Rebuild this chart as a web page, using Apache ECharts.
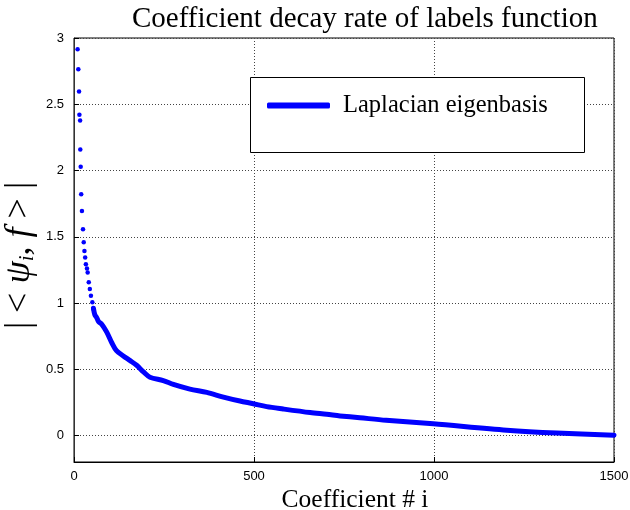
<!DOCTYPE html>
<html>
<head>
<meta charset="utf-8">
<script src="https://cdn.jsdelivr.net/npm/echarts@6/dist/echarts.min.js"></script>
<style>
  html, body { margin: 0; padding: 0; background: #fff; }
  #chart { width: 630px; height: 510px; }
</style>
</head>
<body>
<div id="chart"></div>
<script>
// sparse leading coefficients, drawn as dots
var dotIndex = [10, 12, 14, 15, 17, 17.5, 18.6, 20, 22, 25, 27, 29, 31, 33, 36, 38, 41, 44, 47, 51, 54];
var dotValue = [2.915, 2.765, 2.596, 2.42, 2.378, 2.158, 2.028, 1.82, 1.694, 1.556, 1.459, 1.393, 1.344, 1.293, 1.26, 1.231, 1.156, 1.105, 1.055, 1.005, 0.955];
// dense tail, drawn as thick line
var lineIndex = [54, 58, 63, 68, 77, 91, 105, 118, 137, 156, 174, 193, 211, 248, 276, 322, 369, 415, 461, 498, 535, 581, 656, 702, 739, 794, 867, 998, 1202, 1341, 1500];
var lineValue = [0.96, 0.91, 0.89, 0.86, 0.84, 0.78, 0.70, 0.64, 0.60, 0.565, 0.53, 0.48, 0.44, 0.415, 0.385, 0.35, 0.325, 0.29, 0.26, 0.24, 0.218, 0.2, 0.173, 0.16, 0.148, 0.134, 0.115, 0.088, 0.04, 0.018, 0.002];
var yTicks = [0, 0.5, 1, 1.5, 2, 2.5, 3];

var chart = echarts.init(document.getElementById('chart'));

var zip = function(xs, ys) {
    var out = [];
    for (var i = 0; i < xs.length; i++) {
        out.push([xs[i], ys[i]]);
    }
    return out;
};

var serif = 'Liberation Serif';
var gridLine = { show: true, lineStyle: { color: '#444', type: [1, 2], width: 1 } };

var option = {
    animation: false,
    backgroundColor: '#fff',
    title: {
        text: 'Coefficient decay rate of labels function',
        left: 127,
        top: 0,
        textStyle: { fontFamily: serif, fontSize: 29, fontWeight: 'normal', color: '#000' }
    },
    grid: {
        left: 74, right: 16, top: 38, bottom: 48,
        outerBoundsMode: 'none',
        show: true, borderColor: '#000', borderWidth: 1
    },
    graphic: [{
        type: 'rect',
        z: 10,
        shape: { x: 250.5, y: 77.5, width: 334, height: 75 },
        style: { fill: '#fff', stroke: '#000', lineWidth: 1 }
    }],
    legend: {
        data: ['Laplacian eigenbasis'],
        left: 262,
        top: 88,
        z: 20,
        icon: 'roundRect',
        itemWidth: 63,
        itemHeight: 6,
        textStyle: { fontFamily: serif, fontSize: 24.5, color: '#000', padding: [0, 0, 0, 8] }
    },
    xAxis: {
        type: 'value',
        min: 0, max: 1500, interval: 500,
        axisLine: { onZero: false, lineStyle: { color: '#000' } },
        axisTick: { inside: true, length: 5, lineStyle: { color: '#000' } },
        axisLabel: {
            fontFamily: 'Liberation Sans', fontSize: 13, color: '#000', margin: 8,
            formatter: function(value) {
                return String(value);
            }
        },
        splitLine: gridLine,
        name: 'Coefficient # i',
        nameLocation: 'middle',
        nameGap: 25,
        nameMoveOverlap: false,
        nameTextStyle: { fontFamily: serif, fontSize: 25.5, color: '#000', padding: [0, 0, 0, 22] }
    },
    yAxis: {
        type: 'value',
        min: -0.2, max: 3,
        axisLine: { show: true, lineStyle: { color: '#333' } },
        axisTick: { inside: true, length: 5, customValues: yTicks, lineStyle: { color: '#000' } },
        axisLabel: { customValues: yTicks, fontFamily: 'Liberation Sans', fontSize: 13, color: '#000', margin: 10 },
        splitLine: gridLine,
        name: '{a|| < }{b|ψ}{s|i}{a|, }{b|f}{a| > |}',
        nameLocation: 'middle',
        nameRotate: 90,
        nameGap: 36,
        nameMoveOverlap: false,
        nameTextStyle: {
            padding: [0, 11, 0, 0],
            rich: {
                a: { fontFamily: serif, fontSize: 36, color: '#000' },
                b: { fontFamily: serif, fontStyle: 'italic', fontSize: 36, color: '#000' },
                s: { fontFamily: serif, fontStyle: 'italic', fontSize: 21, color: '#000', verticalAlign: 'bottom' }
            }
        }
    },
    series: [{
        name: 'dots',
        type: 'scatter',
        symbolSize: 4.5,
        itemStyle: { color: '#0000ff', opacity: 1 },
        data: zip(dotIndex, dotValue)
    }, {
        name: 'Laplacian eigenbasis',
        type: 'line',
        showSymbol: false,
        smooth: 0.3,
        color: '#0000ff',
        lineStyle: { width: 5, color: '#0000ff', cap: 'round', join: 'round' },
        data: zip(lineIndex, lineValue)
    }]
};
chart.setOption(option);
</script>
</body>
</html>
